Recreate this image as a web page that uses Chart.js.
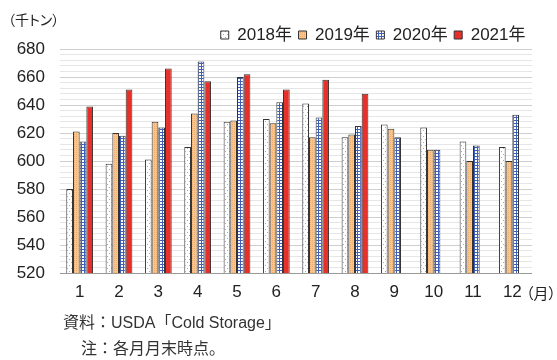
<!DOCTYPE html>
<html lang="ja">
<head>
<meta charset="utf-8">
<title>冷凍在庫量の推移</title>
<script src="https://cdn.jsdelivr.net/npm/chart.js@4/dist/chart.umd.min.js"></script>
<style>
  html, body { margin: 0; padding: 0; background: #fff; }
  #wrap { position: relative; width: 557px; height: 360px; overflow: hidden; }
  #chart { position: absolute; left: 0; top: 0; }
  .txt {
    position: absolute;
    font-family: "Liberation Sans", "Noto Sans CJK JP", sans-serif;
    color: #222;
    white-space: nowrap;
    transform: translateY(-50%);
  }
  .palt { font-feature-settings: "palt" 1; }
</style>
</head>
<body>
<div id="wrap">
  <canvas id="chart" width="557" height="360"></canvas>
  <div class="txt palt" style="left:8px; top:19px; font-size:14px;">（千トン）</div>
  <div class="txt palt" style="left:526px; top:292px; font-size:15px;">（月）</div>
  <div class="txt" style="left:63px; top:321px; font-size:16px; color:#333;">資料：USDA「Cold Storage」</div>
  <div class="txt" style="left:81px; top:347px; font-size:16px; color:#333;">注：各月月末時点。</div>
</div>
<script>
// Month-end cold storage stocks (thousand tonnes)
const months = ['1', '2', '3', '4', '5', '6', '7', '8', '9', '10', '11', '12'];
const seriesNames = ['2018年', '2019年', '2020年', '2021年'];
const stocks2018 = [580, 598, 601, 610, 628, 630, 641, 617, 626, 624, 614, 610];
const stocks2019 = [621, 620, 628, 634, 629, 627, 617, 619, 623, 608, 600, 600];
const stocks2020 = [614, 618, 624, 671, 660, 642, 631, 625, 617, 608, 611, 633];
const stocks2021 = [639, 651, 666, 657, 662, 651, 658, 648, null, null, null, null];
const yMin = 520;
const yMax = 680;
const yStep = 4;
const yLabelStep = 20;

// Small repeating fills for the bars
function makePattern(w, h, draw) {
  const c = document.createElement('canvas');
  c.width = w; c.height = h;
  const g = c.getContext('2d');
  draw(g);
  return g.createPattern(c, 'repeat');
}
const ctx = document.getElementById('chart').getContext('2d');

const dotsTeal = makePattern(4, 6, g => {
  g.fillStyle = '#ffffff'; g.fillRect(0, 0, 4, 6);
  g.fillStyle = '#6cc8c8';
  g.fillRect(1, 1, 1, 1);
  g.fillRect(3, 4, 1, 1);
});
const dotsOrange = makePattern(2, 2, g => {
  g.fillStyle = '#f8c690'; g.fillRect(0, 0, 2, 2);
  g.fillStyle = '#eeab6a';
  g.fillRect(0, 0, 1, 1);
});
const gridBlue = makePattern(3, 3, g => {
  g.fillStyle = '#ffffff'; g.fillRect(0, 0, 3, 3);
  g.fillStyle = '#3f60b8';
  g.fillRect(0, 0, 3, 1);
  g.fillRect(0, 0, 1, 3);
});
const solidRed = '#e8302a';

const seriesData = [stocks2018, stocks2019, stocks2020, stocks2021];
const fills = [dotsTeal, dotsOrange, gridBlue, solidRed];

const datasets = seriesNames.map((name, i) => ({
  label: name,
  data: seriesData[i],
  backgroundColor: fills[i],
  borderColor: '#333333',
  borderWidth: 1,
  categoryPercentage: 0.68,
  barPercentage: 1.0
}));

const fontFamily = '"Liberation Sans", "Noto Sans CJK JP", sans-serif';

new Chart(ctx, {
  type: 'bar',
  data: { labels: months, datasets },
  options: {
    responsive: false,
    animation: false,
    layout: { padding: { left: 0, right: 25, top: 20, bottom: 47 } },
    plugins: {
      tooltip: { enabled: false },
      legend: {
        position: 'top',
        align: 'end',
        maxHeight: 29,
        labels: {
          boxWidth: 8,
          boxHeight: 8,
          padding: 6.5,
          color: '#222',
          font: { family: fontFamily, size: 17 }
        }
      }
    },
    scales: {
      x: {
        type: 'category',
        grid: { display: false, drawOnChartArea: false, drawTicks: false, drawBorder: false },
        border: { display: false },
        ticks: {
          color: '#222',
          padding: 9,
          font: { family: fontFamily, size: 17 }
        },
        afterFit: s => { s.height = 40; }
      },
      y: {
        min: yMin,
        max: yMax,
        grid: {
          drawTicks: false,
          drawBorder: false,
          color: c => {
            const v = c.tick ? c.tick.value : 0;
            if (v === yMin) return '#9a9a9a';
            return v % yLabelStep === 0 ? '#cfcfcf' : '#e6e6e6';
          },
          lineWidth: 1
        },
        border: { display: false },
        ticks: {
          stepSize: yStep,
          autoSkip: false,
          padding: 15,
          color: '#222',
          font: { family: fontFamily, size: 17 },
          callback: v => (v % yLabelStep === 0 ? String(v) : '')
        },
        afterFit: s => { s.width = 60; }
      }
    }
  }
});
</script>
</body>
</html>
